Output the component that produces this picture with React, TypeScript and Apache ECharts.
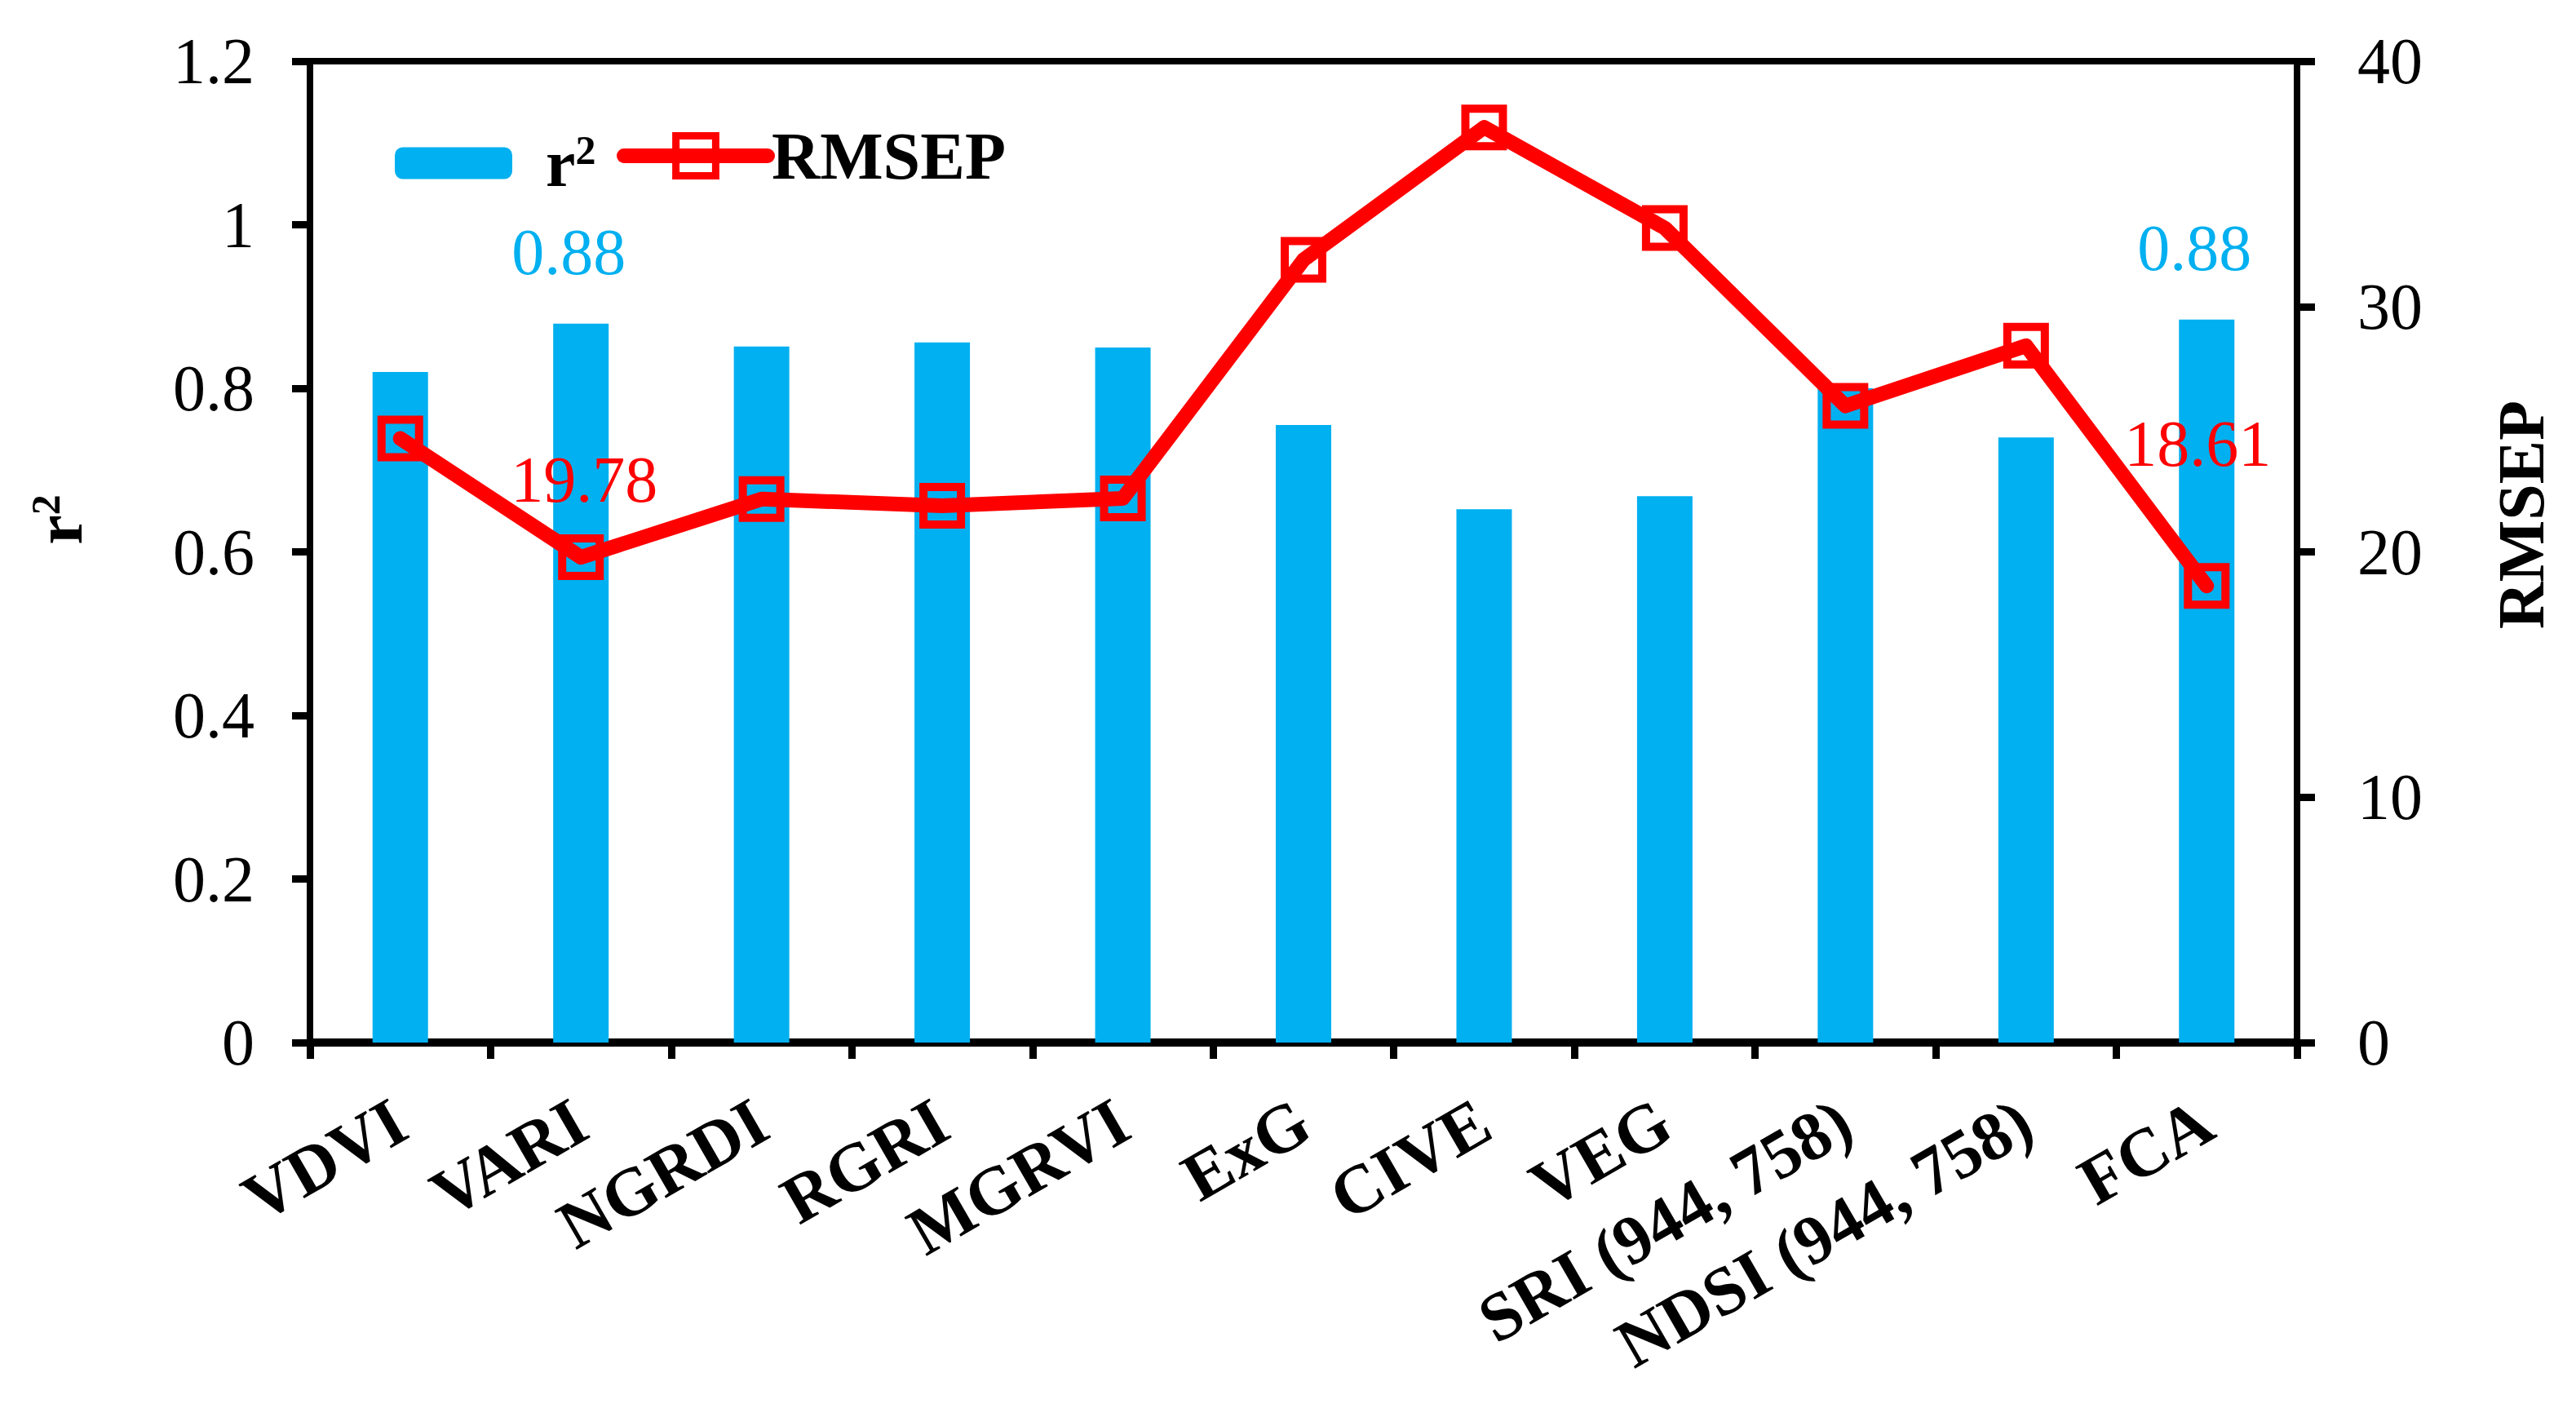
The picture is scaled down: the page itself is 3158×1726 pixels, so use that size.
import React, { useEffect, useRef } from "react";
import * as echarts from "echarts";

const categories = [
  "VDVI",
  "VARI",
  "NGRDI",
  "RGRI",
  "MGRVI",
  "ExG",
  "CIVE",
  "VEG",
  "SRI (944, 758)",
  "NDSI (944, 758)",
  "FCA",
];
const r2Values = [0.82, 0.879, 0.851, 0.856, 0.85, 0.755, 0.652, 0.668, 0.8, 0.74, 0.884];
const rmsepValues = [24.62, 19.78, 22.15, 21.88, 22.18, 31.9, 37.3, 33.2, 25.95, 28.4, 18.61];
const r2LabelIndices = [1, 10];
const rmsepLabelIndices = [1, 10];
const r2Axis = { min: 0, max: 1.2, interval: 0.2 };
const rmsepAxis = { min: 0, max: 40, interval: 10 };

const FONT = "'Liberation Serif', 'Times New Roman', serif";
const BLUE = "#00B0F0";
const RED = "#FF0000";

const supRich = {
  b: { fontFamily: FONT, fontWeight: "bold", fontSize: 82, color: "#000" },
  s: { fontFamily: FONT, fontWeight: "bold", fontSize: 50, color: "#000", verticalAlign: "top" },
};

export default function App() {
  const ref = useRef<HTMLDivElement>(null);

  useEffect(() => {
    document.body.style.margin = "0";
    document.body.style.overflow = "hidden";
    if (!ref.current) return;
    const chart = echarts.init(ref.current, null, { renderer: "svg" });

    const barData = r2Values.map((v, i) =>
      r2LabelIndices.includes(i)
        ? {
            value: v,
            label: {
              show: true,
              position: "top",
              distance: 48,
              offset: [-15, 0],
              color: BLUE,
              fontSize: 80,
              fontFamily: FONT,
              formatter: (p: any) => Number(p.value).toFixed(2),
            },
          }
        : v
    );

    const lineData = rmsepValues.map((v, i) =>
      rmsepLabelIndices.includes(i)
        ? {
            value: v,
            label: {
              show: true,
              position: "top",
              distance: i === 1 ? 27 : 106,
              offset: i === 1 ? [4, 0] : [-11, 0],
              color: RED,
              fontSize: 80,
              fontFamily: FONT,
              formatter: (p: any) => Number(p.value).toFixed(2),
            },
          }
        : v
    );

    chart.setOption({
      animation: false,
      backgroundColor: "#fff",
      grid: {
        left: 380,
        right: 342,
        top: 75,
        bottom: 448,
        show: true,
        borderColor: "#000",
        borderWidth: 8,
        containLabel: false,
      },
      legend: [
        {
          data: ["r²"],
          left: 484,
          top: 159,
          padding: 0,
          itemWidth: 144,
          itemHeight: 39,
          itemStyle: { color: BLUE },
          formatter: () => "{b|r}{s|2}",
          textStyle: {
            fontFamily: FONT,
            fontWeight: "bold",
            fontSize: 82,
            color: "#000",
            padding: [0, 0, 0, 36],
            rich: supRich,
          },
        },
        {
          data: ["RMSEP"],
          left: 756,
          top: 150,
          padding: 0,
          itemWidth: 176,
          itemHeight: 61,
          lineStyle: { width: 18, color: RED, cap: "round" },
          itemStyle: { color: "rgba(0,0,0,0)", borderColor: RED, borderWidth: 9 },
          textStyle: {
            fontFamily: FONT,
            fontWeight: "bold",
            fontSize: 82,
            color: "#000",
          },
        },
      ],
      xAxis: {
        type: "category",
        data: categories,
        axisLine: { show: true, lineStyle: { color: "#000", width: 10 } },
        axisTick: { show: true, length: 20, lineStyle: { color: "#000", width: 9 } },
        axisLabel: {
          interval: 0,
          rotate: 30,
          margin: 90,
          fontFamily: FONT,
          fontWeight: "bold",
          fontSize: 84,
          color: "#000",
        },
        splitLine: { show: false },
      },
      yAxis: [
        {
          type: "value",
          min: r2Axis.min,
          max: r2Axis.max,
          interval: r2Axis.interval,
          position: "left",
          axisLine: { show: true, lineStyle: { color: "#000", width: 8 } },
          axisTick: { show: true, length: 22, lineStyle: { color: "#000", width: 9 } },
          axisLabel: { margin: 68, fontFamily: FONT, fontSize: 80, color: "#000" },
          splitLine: { show: false },
        },
        {
          type: "value",
          min: rmsepAxis.min,
          max: rmsepAxis.max,
          interval: rmsepAxis.interval,
          position: "right",
          axisLine: { show: true, lineStyle: { color: "#000", width: 8 } },
          axisTick: { show: true, length: 22, lineStyle: { color: "#000", width: 9 } },
          axisLabel: { margin: 74, fontFamily: FONT, fontSize: 80, color: "#000" },
          splitLine: { show: false },
        },
      ],
      graphic: [
        {
          type: "text",
          x: 72,
          y: 637,
          rotation: Math.PI / 2,
          style: {
            text: "{b|r}{s|2}",
            rich: supRich,
            align: "center",
            verticalAlign: "middle",
          },
        },
        {
          type: "text",
          x: 3091,
          y: 631,
          rotation: Math.PI / 2,
          style: {
            text: "RMSEP",
            font: `bold 80px ${FONT}`,
            align: "center",
            verticalAlign: "middle",
            fill: "#000",
          },
        },
      ],
      series: [
        {
          name: "r²",
          type: "bar",
          yAxisIndex: 0,
          barWidth: 68,
          itemStyle: { color: BLUE },
          data: barData,
        },
        {
          name: "RMSEP",
          type: "line",
          yAxisIndex: 1,
          symbol: "rect",
          symbolSize: 46,
          lineStyle: { width: 18, color: RED, cap: "round", join: "round" },
          itemStyle: { color: "rgba(0,0,0,0)", borderColor: RED, borderWidth: 10 },
          data: lineData,
          z: 3,
        },
      ],
    });

    return () => chart.dispose();
  }, []);

  return <div ref={ref} style={{ width: 3158, height: 1726 }} />;
}
